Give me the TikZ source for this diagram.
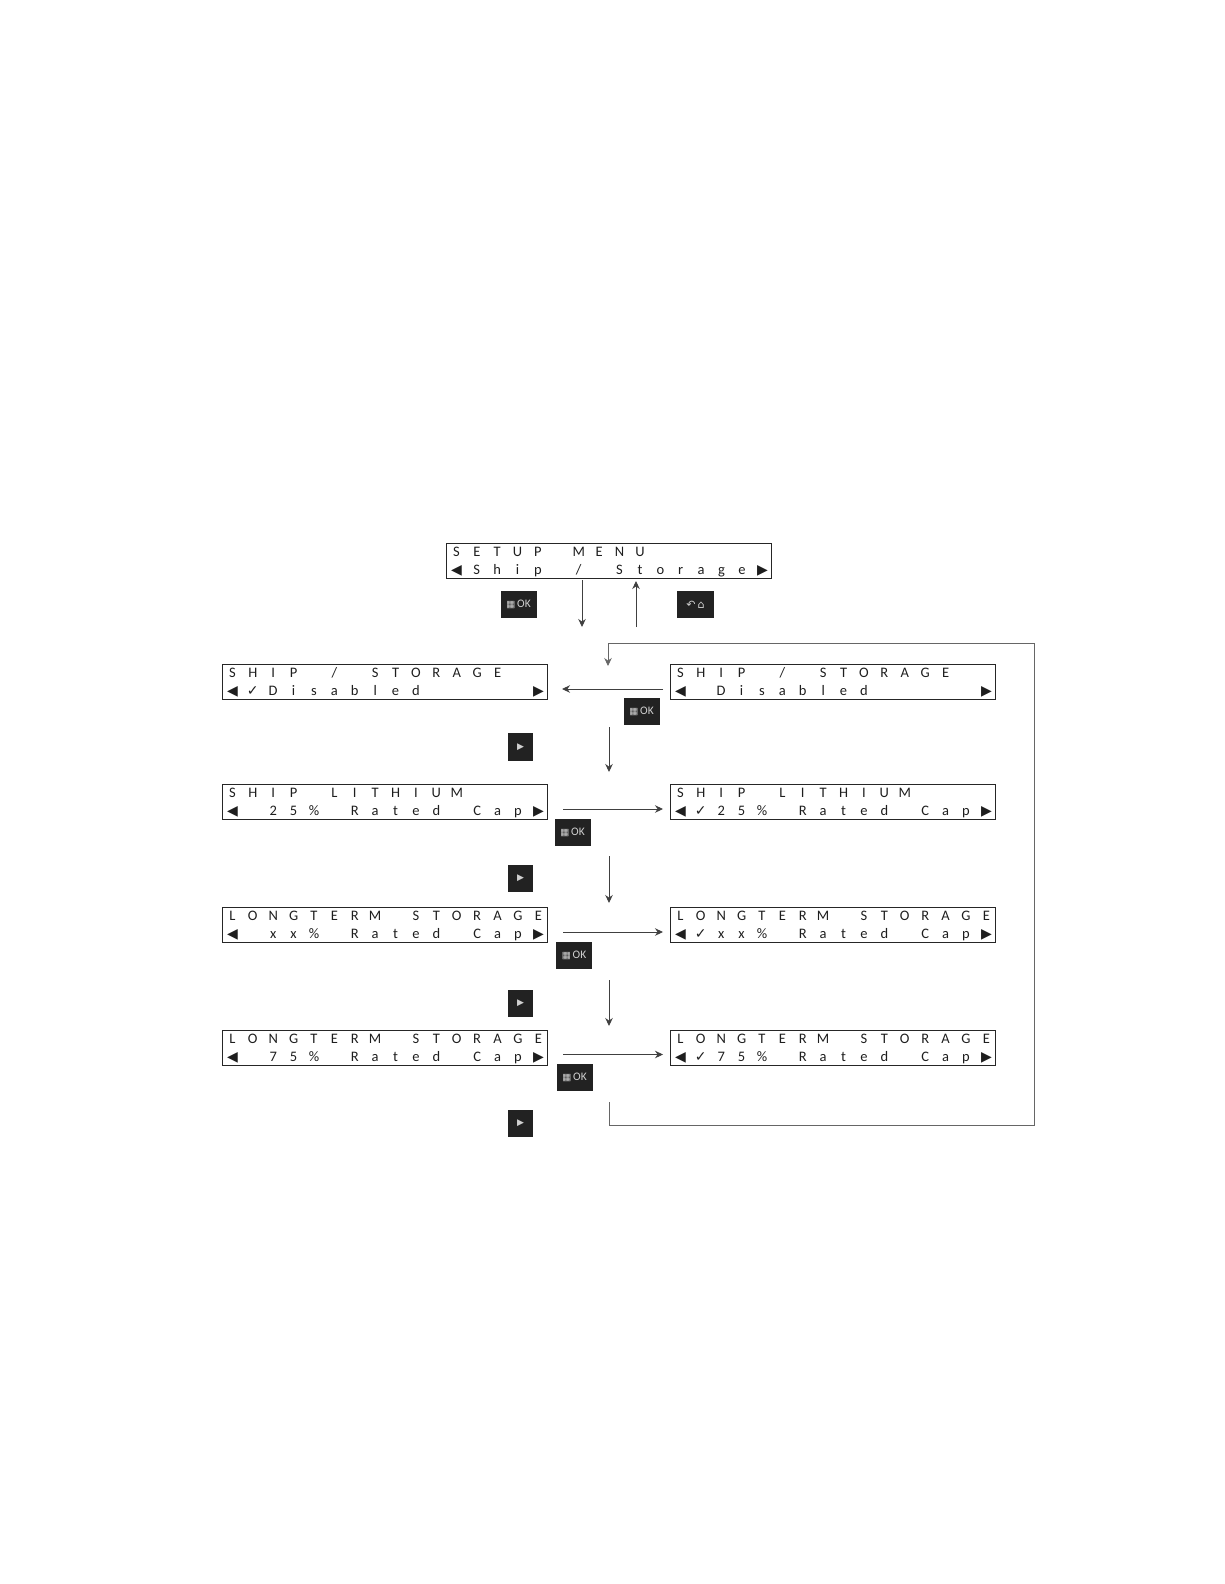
\documentclass[tikz,border=0pt]{standalone}
\usepackage{fontspec}
\usepackage{xcolor}
\usetikzlibrary{arrows.meta,positioning}
\setmainfont{Carlito}
\newfontfamily\symfont{DejaVu Sans}
\definecolor{lcdink}{HTML}{1E1E1E}
\definecolor{keyfill}{HTML}{222222}
\definecolor{keyink}{HTML}{D0D0D0}

\newcommand{\lar}{{\symfont\fontsize{14}{14}\selectfont\char"25C0}}
\newcommand{\rar}{{\symfont\fontsize{14}{14}\selectfont\char"25B6}}
\newcommand{\chk}{{\symfont\fontsize{14}{14}\selectfont\char"2713}}
\makeatletter
\newcommand{\lcdcells}[1]{\@tfor\lcd@c:=#1\do{\makebox[20.4pt]{\lcd@c}}}
\makeatother

\tikzset{
  lcdframe/.style={draw=black!85,line width=1pt,inner sep=0pt,minimum width=325pt,minimum height=35pt,anchor=north west},
  lcdtext/.style={inner sep=0pt,anchor=base west,text=lcdink,font=\fontsize{14.5}{14.5}\selectfont},
  flowtip/.style={-{Stealth[length=8pt,width=7.5pt]}},
  flow/.style={draw=black!75,line width=0.9pt,flowtip},
  loopline/.style={draw=black!60,line width=0.8pt,flowtip},
  keybox/.style={fill=keyfill,text=keyink,inner sep=0pt,minimum height=27pt,font=\fontsize{11.5}{11.5}\selectfont},
  okkey/.style={keybox,minimum width=36pt},
  homekey/.style={keybox,minimum width=37pt},
  playkey/.style={keybox,minimum width=25pt},
}
% one display: name, x, y, upper line, lower line
\newcommand{\lcdbox}[5]{%
  \node[lcdframe] (#1) at (#2-0.5,#3-0.5) {};
  \node[lcdtext] (#1up) at (#2,#3+13.5) {\lcdcells{#4}};
  \node[lcdtext] (#1lo) at (#2,#3+31) {\lcdcells{#5}};
}
\newcommand{\oklabel}{{\symfont\fontsize{9.5}{9.5}\selectfont\char"25A6}\,OK}

\begin{document}
\begin{tikzpicture}[x=1pt,y=-1pt]
  \useasboundingbox (0,0) rectangle (1224,1584);

  % displays
  \lcdbox{menu}{446}{543}{SETUP~MENU}{\lar Ship~/~Storage\rar}
  \lcdbox{shipOn}{222}{664}{SHIP~/~STORAGE}{\lar\chk Disabled~~~~~\rar}
  \lcdbox{shipOff}{670}{664}{SHIP~/~STORAGE}{\lar~Disabled~~~~~\rar}
  \lcdbox{lithL}{222}{784}{SHIP~LITHIUM}{\lar~25\%~Rated~Cap\rar}
  \lcdbox{lithR}{670}{784}{SHIP~LITHIUM}{\lar\chk 25\%~Rated~Cap\rar}
  \lcdbox{xxL}{222}{907}{LONGTERM~STORAGE}{\lar~xx\%~Rated~Cap\rar}
  \lcdbox{xxR}{670}{907}{LONGTERM~STORAGE}{\lar\chk xx\%~Rated~Cap\rar}
  \lcdbox{sevL}{222}{1030}{LONGTERM~STORAGE}{\lar~75\%~Rated~Cap\rar}
  \lcdbox{sevR}{670}{1030}{LONGTERM~STORAGE}{\lar\chk 75\%~Rated~Cap\rar}

  % keys
  \node[okkey] (okA) at (518.5,604.5) {\oklabel};
  \node[homekey] (homeA) at (695.5,604.5) {{\symfont\fontsize{11}{11}\selectfont\char"21B6\,\char"2302}};
  \node[okkey] (okB) at (641.5,711.5) {\oklabel};
  \node[playkey,minimum height=28pt] (playA) at (520.5,747) {{\symfont\fontsize{9}{9}\selectfont\char"25B6}};
  \node[okkey] (okC) at (572.5,832) {\oklabel};
  \node[playkey] (playB) at (520.5,878) {{\symfont\fontsize{9}{9}\selectfont\char"25B6}};
  \node[okkey] (okD) at (574,955.5) {\oklabel};
  \node[playkey] (playC) at (520.5,1003) {{\symfont\fontsize{9}{9}\selectfont\char"25B6}};
  \node[okkey] (okE) at (574.5,1077) {\oklabel};
  \node[playkey] (playD) at (520.5,1123.5) {{\symfont\fontsize{9}{9}\selectfont\char"25B6}};

  % arrow ends
  \coordinate (downS) at (582,580);
  \coordinate (downE) at (582,627);
  \coordinate (upS) at (636,627);
  \coordinate (upE) at (636,581);
  \coordinate (backS) at (663,689);
  \coordinate (backE) at (562,689);
  \coordinate (stepAS) at (609,727);
  \coordinate (stepAE) at (609,772);
  \coordinate (pickAS) at (563,809);
  \coordinate (pickAE) at (663,809);
  \coordinate (stepBS) at (609,856);
  \coordinate (stepBE) at (609,903);
  \coordinate (pickBS) at (563,932);
  \coordinate (pickBE) at (663,932);
  \coordinate (stepCS) at (609,980);
  \coordinate (stepCE) at (609,1026);
  \coordinate (pickCS) at (563,1054.5);
  \coordinate (pickCE) at (663,1054.5);
  \coordinate (loopS) at (609,1102);
  \coordinate (loopA) at (609,1125);
  \coordinate (loopB) at (1034,1125);
  \coordinate (loopC) at (1034,643);
  \coordinate (loopD) at (608,643);
  \coordinate (loopE) at (608,666);

  \draw[flow] (downS) -- (downE);
  \draw[flow] (upS) -- (upE);
  \draw[flow] (backS) -- (backE);
  \draw[flow] (stepAS) -- (stepAE);
  \draw[flow] (pickAS) -- (pickAE);
  \draw[flow] (stepBS) -- (stepBE);
  \draw[flow] (pickBS) -- (pickBE);
  \draw[flow] (stepCS) -- (stepCE);
  \draw[flow] (pickCS) -- (pickCE);

  % way back to the top
  \draw[loopline] (loopS) -- (loopA) -- (loopB) -- (loopC) -- (loopD) -- (loopE);
\end{tikzpicture}
\end{document}
